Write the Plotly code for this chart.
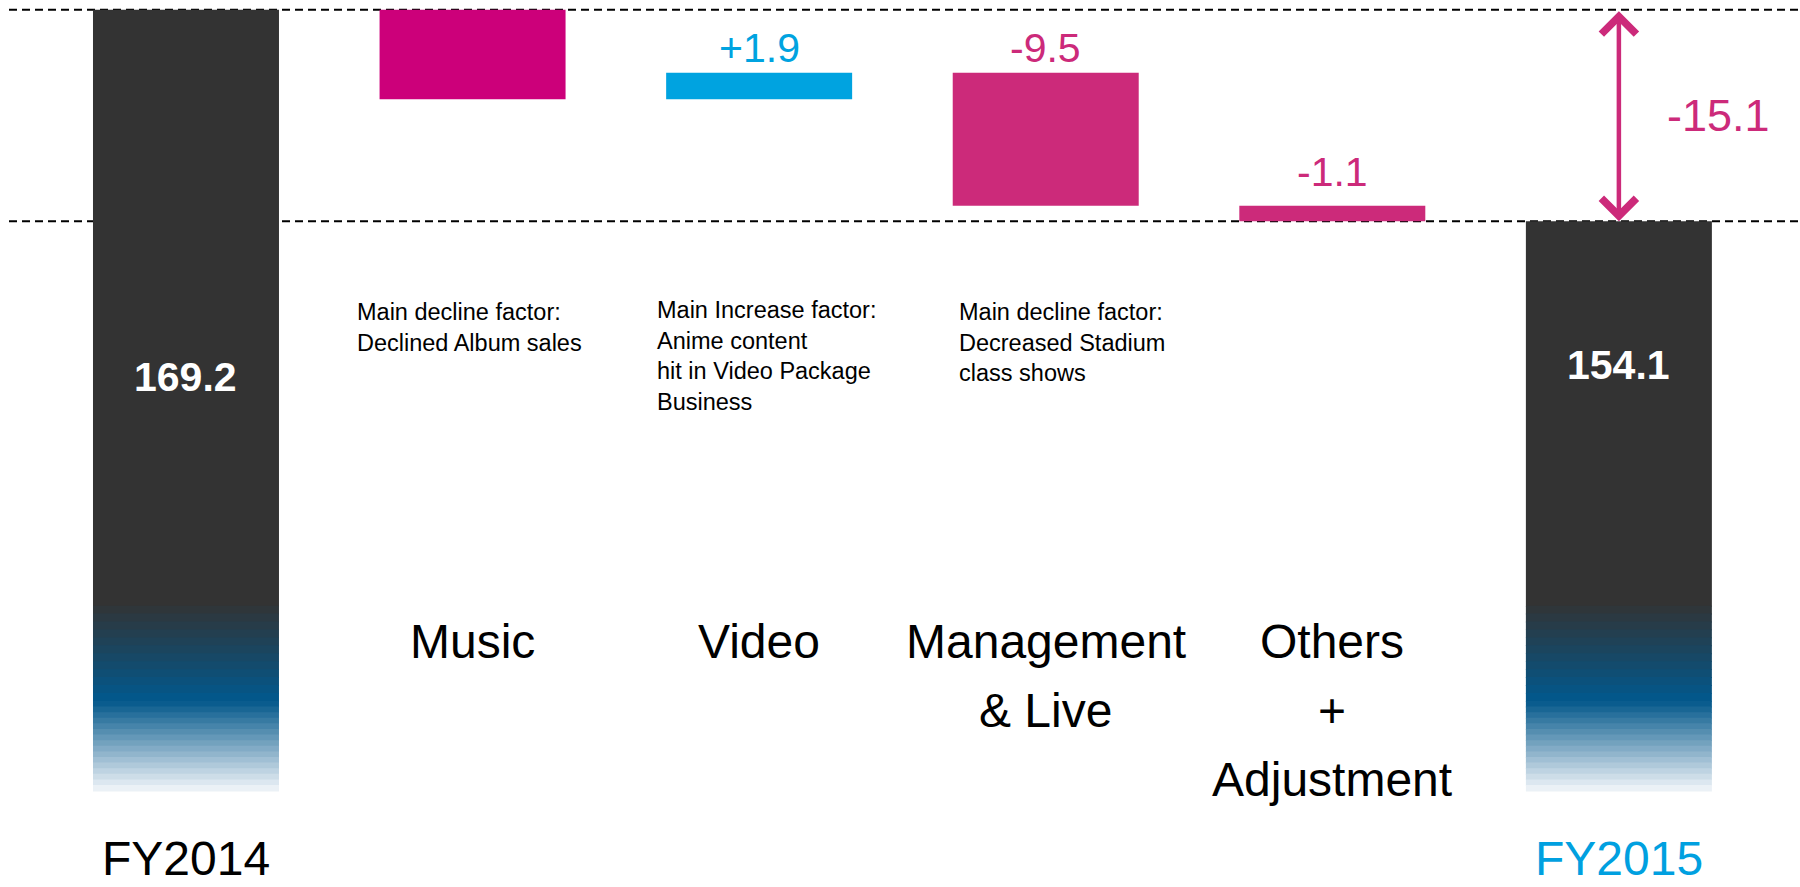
import plotly.graph_objects as go

# ---------------- data ----------------
categories = ["FY2014", "Music", "Video", "Management & Live", "Others + Adjustment", "FY2015"]
category_lines = [["FY2014"], ["Music"], ["Video"], ["Management", "& Live"],
                  ["Others", "+", "Adjustment"], ["FY2015"]]
start_value = 169.2
end_value = 154.1
deltas = [-6.4, 1.9, -9.5, -1.1]
delta_labels = ["", "+1.9", "-9.5", "-1.1"]
total_labels = ["169.2", "154.1"]
change_label = "-15.1"
notes = [
    "Main decline factor:<br>Declined Album sales",
    "Main Increase factor:<br>Anime content<br>hit in Video Package<br>Business",
    "Main decline factor:<br>Decreased Stadium<br>class shows",
]

# ---------------- style ----------------
FONT = "Liberation Sans, Arial, sans-serif"
DARK = "#333333"
DEEP_BLUE = "#03578A"
FADE_END = "#F2F6FA"
MAGENTA = "#CC007A"
PINK = "#CC2A7A"
CYAN = "#00A3E0"
FY2015_COLOR = "#00A0E0"
delta_colors = [MAGENTA, CYAN, PINK, PINK]
delta_label_yshift = [0, 0, 0, 9]
note_xshift = [-118, -104, -89]
note_top_px = [297, 295, 297]

W, H = 1800, 887
Y_RANGE = [106.58, 169.89]
X_RANGE = [-0.649, 5.632]
BAR_W = 0.649
# visual axis break (the totals are drawn on a truncated scale)
AXIS_FLOOR = 113.4
FADE_START = 126.6
FADE_MID = 119.8


def hex2rgb(h):
    h = h.lstrip("#")
    return tuple(int(h[i:i + 2], 16) for i in (0, 2, 4))


def lerp(c1, c2, t):
    a, b = hex2rgb(c1), hex2rgb(c2)
    return "rgb(%d,%d,%d)" % tuple(round(a[i] + (b[i] - a[i]) * t) for i in range(3))


def ypaper(px):
    return 1 - px / H


fig = go.Figure()

tot_x = [categories[0], categories[-1]]
totals = [start_value, end_value]

# solid dark part of totals
fig.add_trace(go.Bar(
    x=tot_x, base=[FADE_START] * 2, y=[v - FADE_START for v in totals],
    width=BAR_W, marker=dict(color=DARK, line=dict(width=0)), hoverinfo="skip"))

# gradient bands (dark -> deep blue -> white)
n1, n2 = 12, 16
eps = 0.06
for k in range(n1):
    hi = FADE_START - (FADE_START - FADE_MID) * k / n1
    lo = FADE_START - (FADE_START - FADE_MID) * (k + 1) / n1
    fig.add_trace(go.Bar(
        x=tot_x, base=[lo] * 2, y=[hi - lo + eps] * 2, width=BAR_W,
        marker=dict(color=lerp(DARK, DEEP_BLUE, (k + 1) / n1), line=dict(width=0)),
        hoverinfo="skip"))
for k in range(n2):
    hi = FADE_MID - (FADE_MID - AXIS_FLOOR) * k / n2
    lo = FADE_MID - (FADE_MID - AXIS_FLOOR) * (k + 1) / n2
    fig.add_trace(go.Bar(
        x=tot_x, base=[lo] * 2, y=[hi - lo + eps] * 2, width=BAR_W,
        marker=dict(color=lerp(DEEP_BLUE, FADE_END, (k + 0.5) / n2), line=dict(width=0)),
        hoverinfo="skip"))

# delta bars
annotations = []
running = start_value
for i, d in enumerate(deltas):
    cat = categories[i + 1]
    fig.add_trace(go.Bar(
        x=[cat], base=[running], y=[d], width=BAR_W,
        marker=dict(color=delta_colors[i], line=dict(width=0)), hoverinfo="skip"))
    top = max(running, running + d)
    if delta_labels[i]:
        annotations.append(dict(
            x=i + 1, y=top, xref="x", yref="y", yanchor="bottom", xanchor="center",
            yshift=delta_label_yshift[i],
            text=delta_labels[i], showarrow=False,
            font=dict(family=FONT, size=41, color=CYAN if d > 0 else PINK)))
    running += d

# total value labels
for idx, (lab, py) in zip([0, 5], zip(total_labels, [377, 365])):
    annotations.append(dict(
        x=idx, y=ypaper(py), xref="x", yref="paper", xanchor="center", yanchor="middle",
        text="<b>%s</b>" % lab, showarrow=False,
        font=dict(family=FONT, size=41, color="white")))

# double arrow showing total change
annotations.append(dict(
    x=5, y=end_value, ax=5, ay=start_value, xref="x", yref="y", axref="x", ayref="y",
    text="", showarrow=True, arrowhead=4, startarrowhead=4, arrowside="end+start",
    arrowwidth=4.5, arrowsize=1.5, startarrowsize=1.5, arrowcolor=PINK,
    standoff=0, startstandoff=0))
annotations.append(dict(
    x=5, y=(start_value + end_value) / 2, xref="x", yref="y", xshift=100,
    text=change_label, showarrow=False, xanchor="center", yanchor="middle",
    font=dict(family=FONT, size=45, color=PINK)))

# notes
for i, txt in enumerate(notes):
    annotations.append(dict(
        x=i + 1, y=ypaper(note_top_px[i]), xref="x", yref="paper", xshift=note_xshift[i],
        xanchor="left", yanchor="top", align="left", text=txt, showarrow=False,
        font=dict(family=FONT, size=23.5, color="black")))

# category labels
last = len(category_lines) - 1
for i, lines in enumerate(category_lines):
    color = FY2015_COLOR if i == last else "black"
    if i in (0, last):
        annotations.append(dict(
            x=i, y=0, xref="x", yref="paper", xanchor="center", yanchor="bottom",
            text=lines[0], showarrow=False,
            font=dict(family=FONT, size=48, color=color)))
        continue
    for j, line in enumerate(lines):
        annotations.append(dict(
            x=i, y=ypaper(641 + 69 * j), xref="x", yref="paper",
            xanchor="center", yanchor="middle", text=line, showarrow=False,
            font=dict(family=FONT, size=48, color=color)))

shapes = []
for v in (start_value, end_value):
    shapes.append(dict(
        type="line", xref="paper", yref="y", x0=9 / W, x1=1, y0=v, y1=v,
        line=dict(color="black", width=2, dash="8px,5px"), layer="below"))

fig.update_layout(
    width=W, height=H, barmode="overlay", showlegend=False,
    margin=dict(l=0, r=0, t=0, b=0, pad=0),
    paper_bgcolor="white", plot_bgcolor="white",
    xaxis=dict(type="category", categoryorder="array", categoryarray=categories,
               range=X_RANGE, visible=False, fixedrange=True),
    yaxis=dict(range=Y_RANGE, visible=False, fixedrange=True),
    annotations=annotations, shapes=shapes,
)

fig.write_html(
    "out.html",
    config={"displayModeBar": False},
    post_script="document.body.style.margin='0';document.body.style.overflow='hidden';",
)
